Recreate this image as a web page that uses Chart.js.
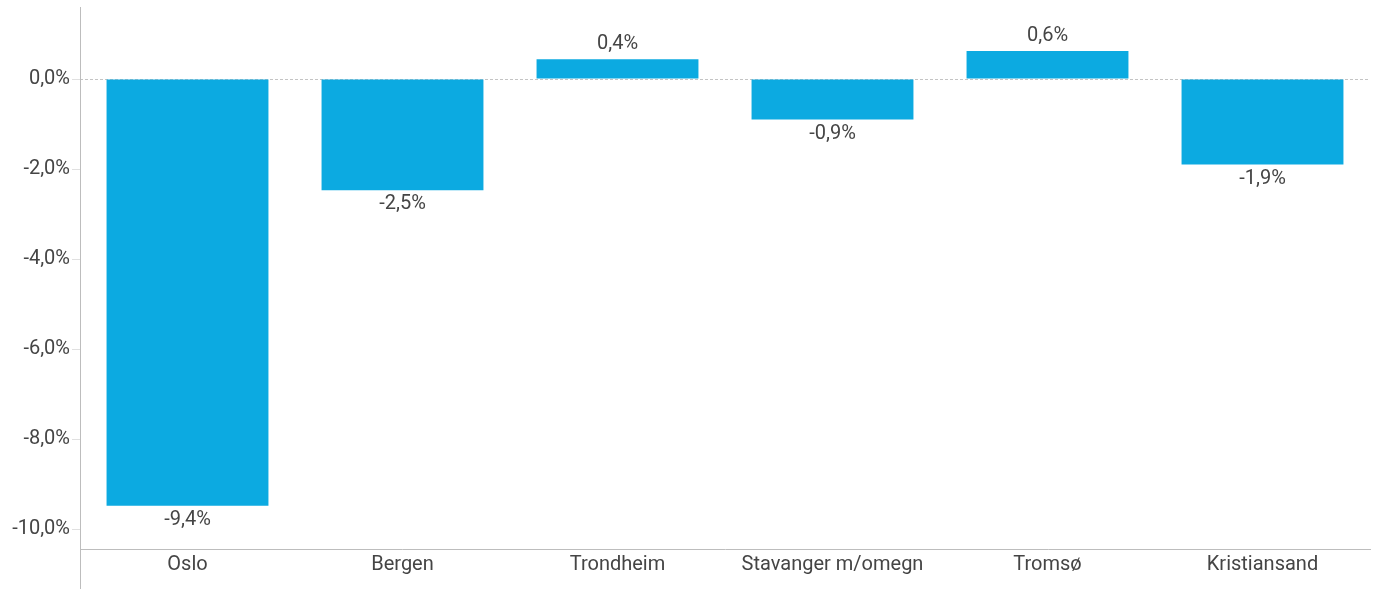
<!DOCTYPE html>
<html>
<head>
<meta charset="utf-8">
<script src="https://cdn.jsdelivr.net/npm/chart.js@4/dist/chart.umd.min.js"></script>
<style>
    html, body { margin:0; padding:0; background:#fff; }
    #wrap { width:1373px; height:589px; position:relative; }
</style>
</head>
<body>
<div id="wrap"><canvas id="chart"></canvas></div>
<script>
const cities = ["Oslo", "Bergen", "Trondheim", "Stavanger m/omegn", "Tromsø", "Kristiansand"];
const change = [-9.48, -2.47, 0.44, -0.9, 0.62, -1.9];
const changeLabels = ["-9,4%", "-2,5%", "0,4%", "-0,9%", "0,6%", "-1,9%"];
const yTicks = [0, -2, -4, -6, -8, -10];

const TEXT = "#454545";
const FONT = "Roboto";
const FSIZE = 20;

function pct(v){
    return v.toFixed(1).replace(".", ",") + "%";
}

// value labels above / below each bar
const barLabels = {
    id: "barLabels",
    afterDatasetsDraw(chart){
        const ctx = chart.ctx;
        const meta = chart.getDatasetMeta(0);
        ctx.save();
        ctx.font = FSIZE + "px " + FONT;
        ctx.fillStyle = TEXT;
        ctx.textAlign = "center";
        ctx.textBaseline = "middle";
        meta.data.forEach((bar, i) => {
            const v = change[i];
            const y = v < 0 ? bar.y + 14 : bar.y - 15;
            ctx.fillText(changeLabels[i], bar.x, y);
        });
        ctx.restore();
    }
};

// y axis line runs on past the x axis to the bottom edge
const yLine = {
    id: "yLine",
    afterDraw(chart){
        const ctx = chart.ctx;
        const x = Math.round(chart.chartArea.left) + 0.5;
        ctx.save();
        ctx.strokeStyle = "#bdbdbd";
        ctx.lineWidth = 1;
        ctx.beginPath();
        ctx.moveTo(x, chart.chartArea.top);
        ctx.lineTo(x, chart.height);
        ctx.stroke();
        ctx.restore();
    }
};

new Chart(document.getElementById("chart"), {
    type: "bar",
    data: {
        labels: cities,
        datasets: [{
            data: change,
            backgroundColor: "#0caae1",
            categoryPercentage: 1,
            barPercentage: 0.753
        }]
    },
    options: {
        responsive: true,
        maintainAspectRatio: false,
        animation: false,
        layout: { padding: { top: 7, right: 3, left: 0, bottom: 0 } },
        plugins: { legend: { display: false }, tooltip: { enabled: false } },
        scales: {
            x: {
                grid: { display: false, drawTicks: false },
                border: { display: true, color: "#bdbdbd" },
                ticks: { color: TEXT, font: { family: FONT, size: FSIZE }, padding: 4 },
                afterFit: s => { s.height = 40; }
            },
            y: {
                min: -10.44,
                max: 1.6,
                afterBuildTicks: s => { s.ticks = yTicks.map(v => ({ value: v })); },
                grid: {
                    color: c => (c.tick && c.tick.value === 0) ? "#c4c4c4" : "rgba(0,0,0,0)",
                    tickColor: "#e0e0e0",
                    tickLength: 8
                },
                border: { display: false, dash: [3, 2] },
                ticks: {
                    color: TEXT,
                    font: { family: FONT, size: FSIZE },
                    padding: 2,
                    callback: v => pct(v)
                },
                afterFit: s => { s.width = 80; s.paddingTop = 0; s.paddingBottom = 0; }
            }
        }
    },
    plugins: [barLabels, yLine]
});
</script>
</body>
</html>
